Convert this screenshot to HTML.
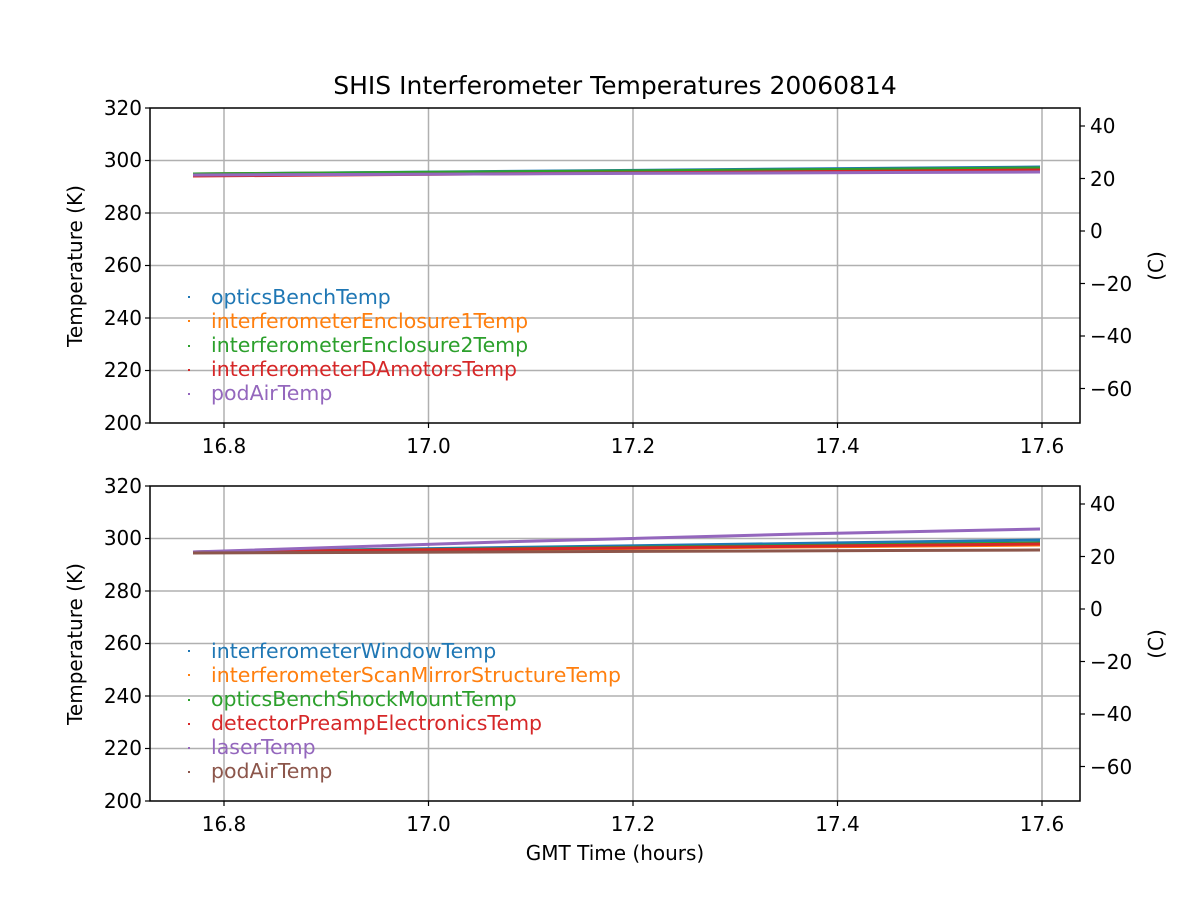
<!DOCTYPE html>
<html><head><meta charset="utf-8"><style>body{margin:0;background:#fff}svg{display:block;font-family:"DejaVu Sans","Liberation Sans",sans-serif}</style></head><body>
<svg width="1200" height="900" viewBox="0 0 1200 900" xmlns="http://www.w3.org/2000/svg">
<rect width="1200" height="900" fill="#fff"/>
<text x="615" y="94" font-size="25" text-anchor="middle">SHIS Interferometer Temperatures 20060814</text>
<!-- TOP -->
<g stroke="#b0b0b0" stroke-width="1.5">
<line x1="224" y1="108" x2="224" y2="423"/><line x1="428.5" y1="108" x2="428.5" y2="423"/><line x1="633" y1="108" x2="633" y2="423"/><line x1="837.5" y1="108" x2="837.5" y2="423"/><line x1="1042" y1="108" x2="1042" y2="423"/>
<line x1="150" y1="160.5" x2="1080" y2="160.5"/><line x1="150" y1="213" x2="1080" y2="213"/><line x1="150" y1="265.5" x2="1080" y2="265.5"/><line x1="150" y1="318" x2="1080" y2="318"/><line x1="150" y1="370.5" x2="1080" y2="370.5"/>
</g>
<g stroke-width="3" fill="none">
<line x1="193" y1="174" x2="1040" y2="167" stroke="#1f77b4"/>
<line x1="193" y1="174" x2="1040" y2="169" stroke="#ff7f0e"/>
<line x1="193" y1="174" x2="1040" y2="168" stroke="#2ca02c"/>
<line x1="193" y1="176" x2="1040" y2="170" stroke="#d62728"/>
<line x1="193" y1="175" x2="1040" y2="172" stroke="#9467bd"/>
</g>
<rect x="150" y="108" width="930" height="315" fill="none" stroke="#000" stroke-width="1.5"/>
<g font-size="20" text-anchor="end">
<text x="142" y="115">320</text><text x="142" y="167">300</text><text x="142" y="220">280</text><text x="142" y="272">260</text><text x="142" y="325">240</text><text x="142" y="377">220</text><text x="142" y="430">200</text>
</g>
<g stroke="#000" stroke-width="1.2">
<line x1="145" y1="108" x2="150" y2="108"/><line x1="145" y1="160.5" x2="150" y2="160.5"/><line x1="145" y1="213" x2="150" y2="213"/><line x1="145" y1="265.5" x2="150" y2="265.5"/><line x1="145" y1="318" x2="150" y2="318"/><line x1="145" y1="370.5" x2="150" y2="370.5"/><line x1="145" y1="423" x2="150" y2="423"/>
<line x1="224" y1="423" x2="224" y2="428"/><line x1="428.5" y1="423" x2="428.5" y2="428"/><line x1="633" y1="423" x2="633" y2="428"/><line x1="837.5" y1="423" x2="837.5" y2="428"/><line x1="1042" y1="423" x2="1042" y2="428"/>
<line x1="1080" y1="126" x2="1085" y2="126"/><line x1="1080" y1="178.5" x2="1085" y2="178.5"/><line x1="1080" y1="231" x2="1085" y2="231"/><line x1="1080" y1="283.5" x2="1085" y2="283.5"/><line x1="1080" y1="336" x2="1085" y2="336"/><line x1="1080" y1="388.5" x2="1085" y2="388.5"/>
</g>
<g font-size="20">
<text x="1090" y="133">40</text><text x="1090" y="186">20</text><text x="1090" y="238">0</text><text x="1090" y="291">−20</text><text x="1090" y="343">−40</text><text x="1090" y="396">−60</text>
</g>
<g font-size="20" text-anchor="middle">
<text x="224" y="453">16.8</text><text x="428.5" y="453">17.0</text><text x="633" y="453">17.2</text><text x="837.5" y="453">17.4</text><text x="1042" y="453">17.6</text>
</g>
<text transform="translate(82,266) rotate(-90)" font-size="20" text-anchor="middle">Temperature (K)</text>
<text transform="translate(1163,266) rotate(-90)" font-size="20" text-anchor="middle">(C)</text>
<g font-size="20.5">
<rect x="188" y="296" width="2" height="2" fill="#1f77b4"/><text x="211" y="304" fill="#1f77b4">opticsBenchTemp</text>
<rect x="188" y="320" width="2" height="2" fill="#ff7f0e"/><text x="211" y="328" fill="#ff7f0e">interferometerEnclosure1Temp</text>
<rect x="188" y="345" width="2" height="2" fill="#2ca02c"/><text x="211" y="352" fill="#2ca02c">interferometerEnclosure2Temp</text>
<rect x="188" y="369" width="2" height="2" fill="#d62728"/><text x="211" y="376" fill="#d62728">interferometerDAmotorsTemp</text>
<rect x="188" y="393" width="2" height="2" fill="#9467bd"/><text x="211" y="400" fill="#9467bd">podAirTemp</text>
</g>
<!-- BOTTOM -->
<g stroke="#b0b0b0" stroke-width="1.5">
<line x1="224" y1="486" x2="224" y2="801"/><line x1="428.5" y1="486" x2="428.5" y2="801"/><line x1="633" y1="486" x2="633" y2="801"/><line x1="837.5" y1="486" x2="837.5" y2="801"/><line x1="1042" y1="486" x2="1042" y2="801"/>
<line x1="150" y1="538.5" x2="1080" y2="538.5"/><line x1="150" y1="591" x2="1080" y2="591"/><line x1="150" y1="643.5" x2="1080" y2="643.5"/><line x1="150" y1="696" x2="1080" y2="696"/><line x1="150" y1="748.5" x2="1080" y2="748.5"/>
</g>
<g stroke-width="3" fill="none">
<line x1="193" y1="552" x2="1040" y2="540" stroke="#1f77b4"/>
<line x1="193" y1="552" x2="1040" y2="545" stroke="#ff7f0e"/>
<line x1="193" y1="552" x2="1040" y2="543" stroke="#2ca02c"/>
<line x1="193" y1="552" x2="1040" y2="544" stroke="#d62728"/>
<polyline points="193,552 500,542 800,534 1040,529" stroke="#9467bd"/>
<line x1="193" y1="553" x2="1040" y2="550" stroke="#8c564b"/>
</g>
<rect x="150" y="486" width="930" height="315" fill="none" stroke="#000" stroke-width="1.5"/>
<g font-size="20" text-anchor="end">
<text x="142" y="493">320</text><text x="142" y="545">300</text><text x="142" y="598">280</text><text x="142" y="650">260</text><text x="142" y="703">240</text><text x="142" y="755">220</text><text x="142" y="808">200</text>
</g>
<g stroke="#000" stroke-width="1.2">
<line x1="145" y1="486" x2="150" y2="486"/><line x1="145" y1="538.5" x2="150" y2="538.5"/><line x1="145" y1="591" x2="150" y2="591"/><line x1="145" y1="643.5" x2="150" y2="643.5"/><line x1="145" y1="696" x2="150" y2="696"/><line x1="145" y1="748.5" x2="150" y2="748.5"/><line x1="145" y1="801" x2="150" y2="801"/>
<line x1="224" y1="801" x2="224" y2="806"/><line x1="428.5" y1="801" x2="428.5" y2="806"/><line x1="633" y1="801" x2="633" y2="806"/><line x1="837.5" y1="801" x2="837.5" y2="806"/><line x1="1042" y1="801" x2="1042" y2="806"/>
<line x1="1080" y1="504" x2="1085" y2="504"/><line x1="1080" y1="556.5" x2="1085" y2="556.5"/><line x1="1080" y1="609" x2="1085" y2="609"/><line x1="1080" y1="661.5" x2="1085" y2="661.5"/><line x1="1080" y1="714" x2="1085" y2="714"/><line x1="1080" y1="766.5" x2="1085" y2="766.5"/>
</g>
<g font-size="20">
<text x="1090" y="511">40</text><text x="1090" y="564">20</text><text x="1090" y="616">0</text><text x="1090" y="669">−20</text><text x="1090" y="721">−40</text><text x="1090" y="774">−60</text>
</g>
<g font-size="20" text-anchor="middle">
<text x="224" y="831">16.8</text><text x="428.5" y="831">17.0</text><text x="633" y="831">17.2</text><text x="837.5" y="831">17.4</text><text x="1042" y="831">17.6</text>
</g>
<text x="615" y="860" font-size="20" text-anchor="middle">GMT Time (hours)</text>
<text transform="translate(82,644) rotate(-90)" font-size="20" text-anchor="middle">Temperature (K)</text>
<text transform="translate(1163,644) rotate(-90)" font-size="20" text-anchor="middle">(C)</text>
<g font-size="20.5">
<rect x="188" y="650" width="2" height="2" fill="#1f77b4"/><text x="211" y="658" fill="#1f77b4">interferometerWindowTemp</text>
<rect x="188" y="674" width="2" height="2" fill="#ff7f0e"/><text x="211" y="682" fill="#ff7f0e">interferometerScanMirrorStructureTemp</text>
<rect x="188" y="699" width="2" height="2" fill="#2ca02c"/><text x="211" y="706" fill="#2ca02c">opticsBenchShockMountTemp</text>
<rect x="188" y="723" width="2" height="2" fill="#d62728"/><text x="211" y="730" fill="#d62728">detectorPreampElectronicsTemp</text>
<rect x="188" y="747" width="2" height="2" fill="#9467bd"/><text x="211" y="754" fill="#9467bd">laserTemp</text>
<rect x="188" y="771" width="2" height="2" fill="#8c564b"/><text x="211" y="778" fill="#8c564b">podAirTemp</text>
</g>
</svg>
</body></html>
